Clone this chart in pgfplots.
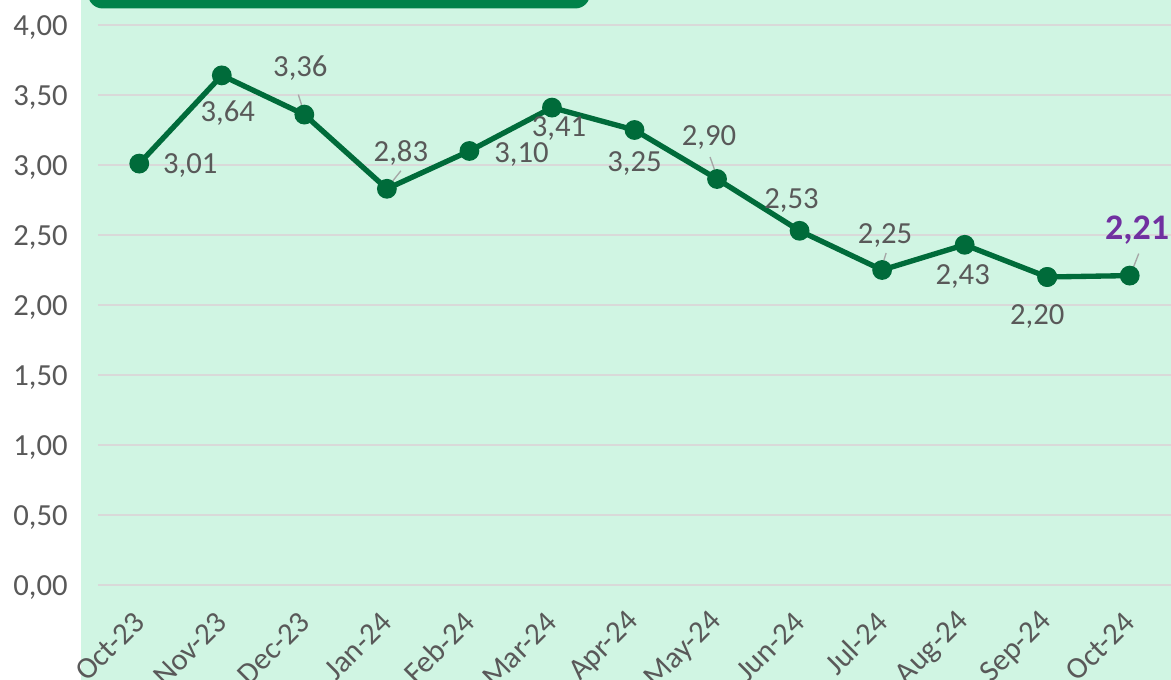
\documentclass[border=0pt]{standalone}
\usepackage{fontspec}
\setmainfont{Carlito}
\usepackage{pgfplots}
\usepackage{pgfplotstable}
\pgfplotsset{compat=1.18}
\definecolor{bggreen}{HTML}{D0F5E3}
\definecolor{linegreen}{HTML}{006B3A}
\definecolor{boxgreen}{HTML}{00824A}
\definecolor{txtgray}{HTML}{595959}
\definecolor{gridgray}{HTML}{D9D9D9}
\definecolor{leadgray}{HTML}{A6A6A6}
\definecolor{accent}{HTML}{7030A0}

% month index, rate, label offset (pt)
\pgfplotstableread{
x y dx dy
0 3.01 38.25 0
1 3.64 4.5 -26.25
2 3.36 -3 36.75
3 2.83 10.5 28.5
4 3.10 39 -0.75
5 3.41 5.25 -14.25
6 3.25 0 -23.25
7 2.90 -6 33
8 2.53 -6 24.75
9 2.25 2.25 27.75
10 2.43 -1.5 -21.75
11 2.20 -7.5 -27.75
}\rates
\pgfplotstableread{
x y dx dy
12 2.21 5.5 36
}\lastrate

\begin{document}
\begin{tikzpicture}
\fill[bggreen] (-12.75pt,-71.25pt) rectangle (804.75pt,438.75pt);
\fill[boxgreen, rounded corners=11pt] (-7.5pt,432.4pt) rectangle (369pt,480pt);
\begin{axis}[
  at={(0,0)}, anchor=south west,
  scale only axis,
  width=804.75pt, height=420pt,
  xmin=-0.5, xmax=12.5,
  ymin=0, ymax=4,
  ytick={0,0.5,...,4},
  xtick={0,...,12},
  xticklabels={Oct-23,Nov-23,Dec-23,Jan-24,Feb-24,Mar-24,Apr-24,May-24,Jun-24,Jul-24,Aug-24,Sep-24,Oct-24},
  axis line style={draw=none},
  tick style={draw=none},
  ymajorgrids=true,
  grid style={gridgray, line width=1pt},
  /pgf/number format/.cd, use comma, fixed, fixed zerofill, precision=2, assume math mode=true,
  /pgfplots/.cd,
  yticklabel style={font=\fontsize{23}{27}\selectfont, text=txtgray, anchor=east, inner sep=0pt, xshift=-22.5pt, yshift=-1.75pt},
  xticklabel style={font=\fontsize{23}{27}\selectfont, text=txtgray, xshift=0pt, yshift=-24pt, rotate=45, anchor=east, inner sep=0pt},
  clip=false,
]
\addplot[linegreen, line width=4pt, mark=*, mark size=5.4pt, mark options={fill=linegreen, draw=linegreen}]
  table[x=x, y=y] {\rates};
\addplot[linegreen, line width=4pt, mark=*, mark size=5.4pt, mark options={fill=linegreen, draw=linegreen}, forget plot]
  coordinates {(11,2.20) (12,2.21)};
% leader lines
\draw[leadgray, line width=1pt] ([shift={(-4.5pt,15pt)}]axis cs:2,3.36) -- ([shift={(-0.75pt,3pt)}]axis cs:2,3.36);
\draw[leadgray, line width=1pt] ([shift={(1.5pt,2.25pt)}]axis cs:3,2.83) -- ([shift={(10.5pt,13.5pt)}]axis cs:3,2.83);
\draw[leadgray, line width=1pt] ([shift={(-5.25pt,16.5pt)}]axis cs:7,2.90) -- ([shift={(-0.75pt,3.75pt)}]axis cs:7,2.90);
\draw[leadgray, line width=1pt] ([shift={(0pt,3pt)}]axis cs:9,2.25) -- ([shift={(3pt,12.75pt)}]axis cs:9,2.25);
\draw[leadgray, line width=1pt] ([shift={(1.5pt,3pt)}]axis cs:12,2.21) -- ([shift={(6.75pt,16.5pt)}]axis cs:12,2.21);
% data labels
\addplot[draw=none, mark=none,
  visualization depends on={\thisrow{dx}\as\dx},
  visualization depends on={\thisrow{dy}\as\dy},
  nodes near coords,
  nodes near coords style={anchor=center, inner sep=0pt, xshift=\dx, yshift=\dy, yshift=-1.75pt,
    font=\fontsize{23}{27}\selectfont, text=txtgray},
] table[x=x, y=y] {\rates};
\addplot[draw=none, mark=none,
  visualization depends on={\thisrow{dx}\as\dx},
  visualization depends on={\thisrow{dy}\as\dy},
  nodes near coords,
  nodes near coords style={anchor=center, inner sep=0pt, xshift=\dx, yshift=\dy, yshift=-2pt,
    font=\fontsize{27}{31}\selectfont\bfseries, text=accent},
] table[x=x, y=y] {\lastrate};
\end{axis}
\pgfresetboundingbox
\path (-73.5pt,-71.25pt) rectangle (804.75pt,438.75pt);
\end{tikzpicture}
\end{document}
